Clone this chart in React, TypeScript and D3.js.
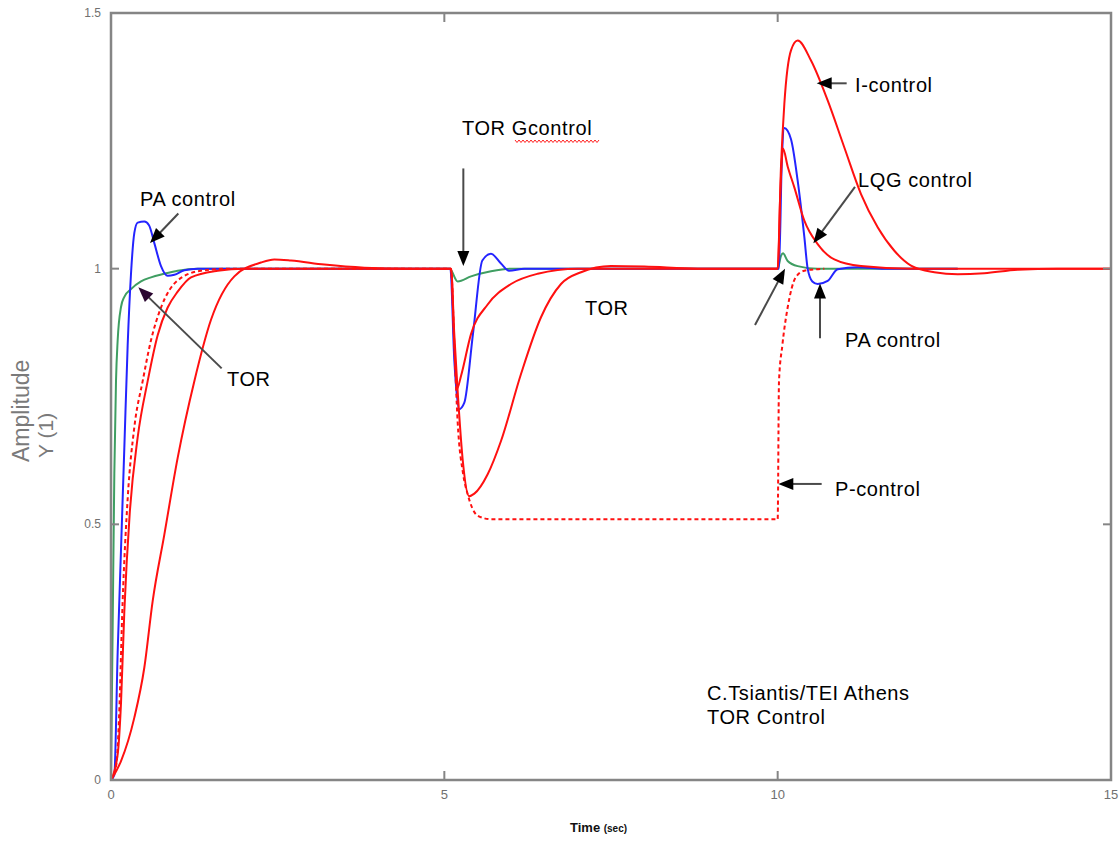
import React from "react";
import * as d3 from "d3";

// ---- data (time in sec, amplitude) ----
const X_TICKS = [0, 5, 10, 15];
const Y_TICKS = [0, 0.5, 1, 1.5];
const Y_TICK_LABELS = ["0", "0.5", "1", "1.5"];

// TOR (green)
const T_TOR = [0, 0.025, 0.05, 0.075, 0.1, 0.15, 0.2, 0.3, 0.45, 0.6, 0.8, 1.0, 1.3, 5.08, 5.2, 5.4, 5.7, 6.0, 10.0, 10.05, 10.08, 10.15, 10.3, 10.6, 12.7];
const V_TOR = [0, 0.3, 0.6, 0.78, 0.86, 0.925, 0.945, 0.96, 0.975, 0.983, 0.99, 0.996, 1.0, 1.0, 0.975, 0.985, 0.995, 1.0, 1.0, 1.025, 1.03, 1.015, 1.005, 1.0, 1.0];

// PA control (blue)
const T_PA = [0, 0.05, 0.1, 0.15, 0.2, 0.25, 0.3, 0.35, 0.4, 0.5, 0.57, 0.65, 0.75, 0.85, 0.95, 1.1, 1.3, 5.09, 5.15, 5.22, 5.3, 5.43, 5.57, 5.7, 5.85, 5.97, 6.2, 10.02, 10.06, 10.1, 10.2, 10.3, 10.4, 10.45, 10.52, 10.6, 10.75, 10.9, 11.2, 11.6, 12.7];
const V_PA = [0, 0.01, 0.25, 0.45, 0.65, 0.85, 0.99, 1.07, 1.09, 1.092, 1.085, 1.05, 1.005, 0.986, 0.988, 0.997, 1.0, 1.0, 0.82, 0.725, 0.738, 0.873, 1.016, 1.029, 1.01, 0.996, 1.0, 1.0, 1.2, 1.275, 1.253, 1.172, 1.062, 1.0, 0.975, 0.97, 0.976, 0.999, 1.003, 1.0, 1.0];

// P-control (red dashed)
const T_P = [0, 0.08, 0.12, 0.175, 0.25, 0.35, 0.475, 0.6, 0.75, 1.0, 1.35, 1.8, 5.1, 5.15, 5.2, 5.28, 5.35, 5.5, 5.7, 10.0, 10.02, 10.07, 10.15, 10.27, 10.4, 10.7];
const V_P = [0, 0.03, 0.12, 0.35, 0.55, 0.69, 0.78, 0.86, 0.924, 0.977, 0.996, 1.0, 1.0, 0.85, 0.7, 0.6, 0.559, 0.517, 0.51, 0.51, 0.78, 0.85, 0.924, 0.983, 0.996, 1.0];

// LQG control (red solid, fast)
const T_LQG = [0, 0.1, 0.15, 0.2, 0.28, 0.4, 0.55, 0.7, 0.85, 1.0, 1.2, 1.6, 2.0, 5.1, 5.15, 5.19, 5.25, 5.4, 5.65, 6.0, 6.4, 7.0, 10.0, 10.04, 10.08, 10.15, 10.25, 10.4, 10.6, 10.85, 11.25, 12.0, 15];
const V_LQG = [0, 0.05, 0.15, 0.33, 0.52, 0.67, 0.78, 0.87, 0.924, 0.955, 0.983, 0.996, 1.0, 1.0, 0.85, 0.765, 0.79, 0.872, 0.93, 0.97, 0.99, 1.0, 1.0, 1.15, 1.235, 1.2, 1.159, 1.094, 1.048, 1.018, 1.005, 1.0, 1.0];

// I-control (red solid, slow)
const T_I = [0, 0.15, 0.35, 0.5, 0.625, 0.8, 1.0, 1.25, 1.5, 1.85, 2.25, 2.45, 2.7, 3.2, 3.8, 4.5, 5.1, 5.15, 5.2, 5.28, 5.37, 5.45, 5.65, 5.85, 6.15, 6.45, 6.75, 7.05, 7.5, 8.0, 8.8, 10.0, 10.05, 10.1, 10.2, 10.3, 10.5, 10.75, 11.0, 11.25, 11.5, 11.75, 12.0, 12.35, 12.7, 13.1, 13.6, 14.2, 15];
const V_I = [0, 0.037, 0.122, 0.22, 0.35, 0.48, 0.63, 0.78, 0.9, 0.985, 1.012, 1.018, 1.016, 1.008, 1.002, 1.0, 1.0, 0.87, 0.76, 0.62, 0.555, 0.56, 0.598, 0.663, 0.794, 0.905, 0.97, 0.993, 1.005, 1.004, 1.0, 1.0, 1.2, 1.322, 1.427, 1.446, 1.407, 1.329, 1.237, 1.146, 1.081, 1.035, 1.006, 0.993, 0.989, 0.991, 0.998, 1.0, 1.0];

// annotations: label text, position (t, v)
const LABELS = ["PA control", "TOR", "TOR Gcontrol", "TOR", "I-control", "LQG control", "PA control", "P-control", "C.Tsiantis/TEI Athens", "TOR Control"];
const LABEL_T = [0.435, 1.74, 5.265, 7.11, 11.16, 11.205, 11.01, 10.86, 8.94, 8.94];
const LABEL_V = [1.1226, 0.7705, 1.2614, 0.909, 1.3455, 1.1597, 0.8469, 0.5554, 0.1565, 0.1095];

// arrows: tail (t,v) -> tip (t,v)
const ARROW_TAIL_T = [1.01, 1.66, 5.285, 11.035, 11.16, 9.66, 10.635, 10.66];
const ARROW_TAIL_V = [1.108, 0.805, 1.196, 1.3625, 1.16, 0.89, 0.864, 0.579];
const ARROW_TIP_T = [0.585, 0.41, 5.285, 10.585, 10.535, 10.11, 10.635, 10.01];
const ARROW_TIP_V = [1.05, 0.9636, 1.005, 1.3625, 1.0496, 1.0, 0.971, 0.579];
const ARROW_HEAD = ["#000", "#2a0630", "#000", "#000", "#000", "#000", "#000", "#000"];

const W = 1119;
const H = 841;
const LEFT = 111;
const RIGHT = 1111;
const TOP = 13;
const BOTTOM = 780;

const zip = (ts: number[], vs: number[]) => ts.map((t, i) => [t, vs[i]] as [number, number]);

export default function App() {
  const x = d3.scaleLinear().domain([0, 15]).range([LEFT, RIGHT]);
  const y = d3.scaleLinear().domain([0, 1.5]).range([BOTTOM, TOP]);
  const line = d3
    .line<[number, number]>()
    .x((d) => x(d[0]))
    .y((d) => y(d[1]))
    .curve(d3.curveMonotoneX);

  const font = "'Liberation Sans', Arial, sans-serif";
  const frame = "#858585";
  const red = "#ff1010";

  const arrows = ARROW_TAIL_T.map((_, i) => {
    const x1 = x(ARROW_TAIL_T[i]);
    const y1 = y(ARROW_TAIL_V[i]);
    const x2 = x(ARROW_TIP_T[i]);
    const y2 = y(ARROW_TIP_V[i]);
    const dx = x2 - x1;
    const dy = y2 - y1;
    const len = Math.hypot(dx, dy);
    const ux = dx / len;
    const uy = dy / len;
    const hl = 15;
    const hw = 6;
    const bx = x2 - ux * hl;
    const by = y2 - uy * hl;
    const pts = [
      [x2, y2],
      [bx - uy * hw, by + ux * hw],
      [bx + uy * hw, by - ux * hw],
    ];
    return (
      <g key={"a" + i}>
        <line x1={x1} y1={y1} x2={bx + ux * 2} y2={by + uy * 2} stroke="#4a4a4a" strokeWidth={2} />
        <polygon points={pts.map((p) => p.join(",")).join(" ")} fill={ARROW_HEAD[i]} />
      </g>
    );
  });

  // wavy spell-check underline under "Gcontrol"
  const wx0 = x(LABEL_T[2]) + 53;
  const wx1 = wx0 + 84;
  const wy = y(LABEL_V[2]) + 5;
  let wave = `M${wx0},${wy}`;
  for (let i = 1, xx = wx0; xx < wx1; i++) {
    xx = wx0 + i * 2;
    wave += ` L${xx},${wy + (i % 2 === 1 ? 2.5 : 0)}`;
  }

  return (
    <div style={{ position: "absolute", left: 0, top: 0 }}>
      <svg width={W} height={H} style={{ display: "block", background: "#fff" }}>
        {/* curves */}
        <path d={line(zip(T_TOR, V_TOR)) || ""} fill="none" stroke="#3f9e62" strokeWidth={2} />
        <path d={line(zip(T_PA, V_PA)) || ""} fill="none" stroke="#2424ff" strokeWidth={2} />
        <path d={line(zip(T_P, V_P)) || ""} fill="none" stroke={red} strokeWidth={2} strokeDasharray="4,3" />
        <path d={line(zip(T_LQG, V_LQG)) || ""} fill="none" stroke={red} strokeWidth={2} />
        <path d={line(zip(T_I, V_I)) || ""} fill="none" stroke={red} strokeWidth={2} />

        {/* frame */}
        <rect x={LEFT} y={TOP} width={RIGHT - LEFT} height={BOTTOM - TOP} fill="none" stroke={frame} strokeWidth={2.5} />
        {Y_TICKS.map((v, i) => (
          <g key={"yt" + i}>
            <line x1={LEFT} x2={LEFT + 8} y1={y(v)} y2={y(v)} stroke={frame} strokeWidth={2} />
            <line x1={RIGHT} x2={RIGHT - 8} y1={y(v)} y2={y(v)} stroke={frame} strokeWidth={2} />
            <text x={LEFT - 10} y={y(v) + 4} textAnchor="end" fontFamily={font} fontSize={12} fill="#707070">
              {Y_TICK_LABELS[i]}
            </text>
          </g>
        ))}
        {X_TICKS.map((t, i) => (
          <g key={"xt" + i}>
            <line x1={x(t)} x2={x(t)} y1={BOTTOM} y2={BOTTOM - 9} stroke={frame} strokeWidth={2} />
            <line x1={x(t)} x2={x(t)} y1={TOP} y2={TOP + 9} stroke={frame} strokeWidth={2} />
            <text x={x(t)} y={BOTTOM + 19} textAnchor="middle" fontFamily={font} fontSize={13} fill="#707070">
              {String(t)}
            </text>
          </g>
        ))}

        {/* axis titles */}
        <text x={570} y={832} fontFamily={font} fontSize={13} fontWeight="bold" fill="#111">
          Time <tspan fontSize={10}>(sec)</tspan>
        </text>
        <text transform="translate(29,462) rotate(-90)" fontFamily={font} fontSize={23} fill="#7a7a7a">
          Amplitude
        </text>
        <text transform="translate(53,458) rotate(-90)" fontFamily={font} fontSize={21} fill="#7a7a7a">
          Y (1)
        </text>

        {/* annotations */}
        {arrows}
        {LABELS.map((s, i) => (
          <text key={"l" + i} x={x(LABEL_T[i])} y={y(LABEL_V[i])} fontFamily={font} fontSize={20} letterSpacing={0.6} fill="#000">
            {s}
          </text>
        ))}
        <path d={wave} fill="none" stroke="#ff2020" strokeWidth={1} />
      </svg>
    </div>
  );
}
